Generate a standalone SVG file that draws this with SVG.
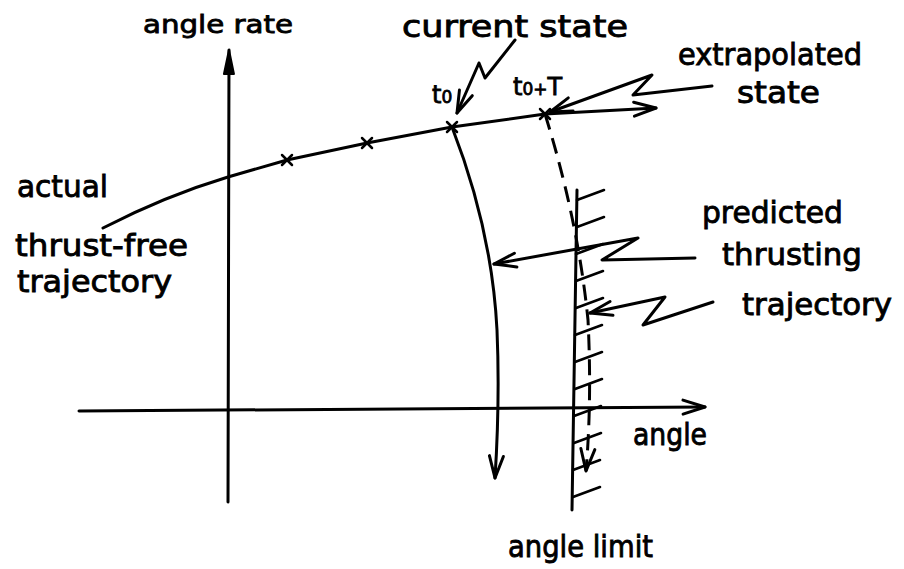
<svg xmlns="http://www.w3.org/2000/svg" width="904" height="569" viewBox="0 0 904 569">
<style>
.ln{fill:none;stroke:#000;stroke-width:3;stroke-linecap:round;stroke-linejoin:round}
.th{fill:none;stroke:#000;stroke-width:2.5;stroke-linecap:round}
.ds{fill:none;stroke:#000;stroke-width:3;stroke-dasharray:16 9}
.tx{font-family:"DejaVu Sans","Liberation Sans",sans-serif;font-size:31px;fill:#000;stroke:#000;stroke-width:0.9}
.sm{font-family:"DejaVu Sans","Liberation Sans",sans-serif;font-size:24px;fill:#000;stroke:#000;stroke-width:0.8}
</style>
<defs>
<marker id="ah" viewBox="-26 -10 30 20" refX="0" refY="0" markerWidth="30" markerHeight="20" markerUnits="userSpaceOnUse" orient="auto" overflow="visible">
<path d="M-22,-7 L0,0 L-22,7" fill="none" stroke="#000" stroke-width="3" stroke-linecap="round" stroke-linejoin="round"/>
</marker>
<marker id="af" viewBox="-26 -10 30 20" refX="0" refY="0" markerWidth="30" markerHeight="20" markerUnits="userSpaceOnUse" orient="auto" overflow="visible">
<path d="M-24,-5 L0,0 L-24,5 Z" fill="#000" stroke="#000" stroke-width="2" stroke-linejoin="round"/>
</marker>
</defs>
<rect width="904" height="569" fill="#fff"/>

<g id="axes">
<path class="ln" d="M228,502 L229,50" marker-end="url(#af)"/>
<path class="ln" d="M79,411 L705,407" marker-end="url(#ah)"/>
</g>

<g id="trajectory">
<path class="ln" d="M103,228 Q165,196 228,177 L287,160 L367,143 L452,127 L545,114 L656,108" marker-end="url(#ah)"/>
<path class="th" d="M282,155 L292,165 M282,165 L292,155"/>
<path class="th" d="M362,138 L372,148 M362,148 L372,138"/>
<path class="th" d="M447,122 L457,132 M447,132 L457,122"/>
<path class="th" d="M540,109 L550,119 M540,119 L550,109"/>
</g>

<g id="thrust-paths">
<path class="ln" d="M452,127 Q492,230 497,330 Q500,400 495,478" marker-end="url(#ah)"/>
<path class="ds" d="M545,114 Q578,220 588,320 Q592,400 586,471" marker-end="url(#ah)"/>
</g>

<g id="angle-limit">
<path class="ln" d="M577,190 L572,510"/>
<path class="th" d="M577,200 L604,190 M577,227 L604,217 M576,254 L603,244 M576,281 L603,271 M576,308 L603,298 M575,335 L602,325 M575,362 L602,352 M575,389 L602,379 M574,416 L601,406 M574,443 L601,433 M573,470 L600,460 M573,497 L600,487"/>
</g>

<g id="connectors">
<path class="ln" d="M515,40 L485,78 L479,63 L457,113" marker-end="url(#ah)"/>
<path class="ln" d="M712,86 L633,95 L652,75 L550,112" marker-end="url(#ah)"/>
<path class="ln" d="M695,258 L602,260 L638,238 L494,264" marker-end="url(#ah)"/>
<path class="ln" d="M713,302 L643,325 L665,297 L590,313" marker-end="url(#ah)"/>
</g>

<g id="labels">
<text class="sm" x="143" y="33" textLength="150" lengthAdjust="spacingAndGlyphs">angle rate</text>
<text class="tx" x="402" y="37" textLength="226" lengthAdjust="spacingAndGlyphs">current state</text>
<text class="tx" x="678" y="65" textLength="184" lengthAdjust="spacingAndGlyphs">extrapolated</text>
<text class="tx" x="737" y="103" textLength="83" lengthAdjust="spacingAndGlyphs">state</text>
<text class="sm" x="432" y="103">t<tspan font-size="17">0</tspan></text>
<text class="sm" x="513" y="95">t<tspan font-size="17">0</tspan><tspan font-size="17">+</tspan>T</text>
<text class="tx" x="17" y="197" textLength="91" lengthAdjust="spacingAndGlyphs">actual</text>
<text class="tx" x="15" y="256" font-size="29" textLength="173" lengthAdjust="spacingAndGlyphs">thrust-free</text>
<text class="tx" x="17" y="292" font-size="29" textLength="155" lengthAdjust="spacingAndGlyphs">trajectory</text>
<text class="tx" x="702" y="223" textLength="141" lengthAdjust="spacingAndGlyphs">predicted</text>
<text class="tx" x="722" y="265" textLength="140" lengthAdjust="spacingAndGlyphs">thrusting</text>
<text class="tx" x="742" y="315" textLength="150" lengthAdjust="spacingAndGlyphs">trajectory</text>
<text class="tx" x="633" y="445" textLength="74" lengthAdjust="spacingAndGlyphs">angle</text>
<text class="tx" x="508" y="557" textLength="145" lengthAdjust="spacingAndGlyphs">angle limit</text>
</g>
</svg>
